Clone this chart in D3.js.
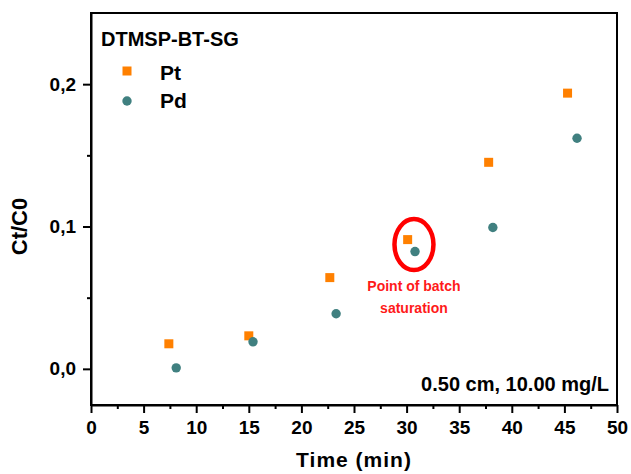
<!DOCTYPE html>
<html>
<head>
<meta charset="utf-8">
<script src="https://cdn.jsdelivr.net/npm/d3@7"></script>
<style>
  body { margin: 0; background: #fff; }
  text { font-family: "Liberation Sans", Arial, sans-serif; font-weight: bold; }
</style>
</head>
<body>
<script>
const ptTime = [7.4, 15.0, 22.7, 30.1, 37.8, 45.3];
const ptValue = [0.0176, 0.0232, 0.0641, 0.0908, 0.1451, 0.1937];
const pdTime = [8.1, 15.4, 23.3, 30.8, 38.2, 46.2];
const pdValue = [0.0007, 0.019, 0.0387, 0.0824, 0.0993, 0.162];
const xTicks = [0, 5, 10, 15, 20, 25, 30, 35, 40, 45, 50];
const yTicks = [0, 0.1, 0.2];

function main(){
    const canvasWidth = 631;
    const canvasHeight = 474;
    const margin = {top: 13, right: 14, bottom: 69, left: 91};
    const width = canvasWidth - margin.left - margin.right;
    const height = canvasHeight - margin.top - margin.bottom;

    const svg = d3.select("body").append("svg")
        .attr("width", canvasWidth)
        .attr("height", canvasHeight);

    const g = svg.append("g")
        .attr("transform", "translate(" + margin.left + "," + margin.top + ")");

    const xScale = d3.scaleLinear().domain([0, 50]).range([0, width]);
    const yScale = d3.scaleLinear().domain([-0.0254, 0.25]).range([height, 0]);

    // minor ticks
    g.append("g")
        .attr("transform", "translate(0," + height + ")")
        .call(d3.axisBottom(xScale).tickValues(d3.range(2.5, 50, 5)).tickSize(4).tickFormat(""))
        .call(a => a.select(".domain").remove());
    g.append("g")
        .call(d3.axisLeft(yScale).tickValues([0.05, 0.15]).tickSize(4).tickFormat(""))
        .call(a => a.select(".domain").remove());

    // major axes
    const xAxis = g.append("g")
        .attr("transform", "translate(0," + height + ")")
        .call(d3.axisBottom(xScale).tickValues(xTicks).tickSize(8).tickSizeOuter(0).tickPadding(8));
    xAxis.selectAll("text").attr("font-size", "19px").attr("fill", "#000");

    const yAxis = g.append("g")
        .call(d3.axisLeft(yScale).tickValues(yTicks).tickSize(8).tickSizeOuter(0).tickPadding(7)
            .tickFormat(d => d3.format(".1f")(d).replace(".", ",")));
    yAxis.selectAll("text").attr("font-size", "19px").attr("fill", "#000");

    g.selectAll(".tick line").attr("stroke", "#000").attr("stroke-width", 2);
    g.selectAll(".domain").attr("stroke", "#000").attr("stroke-width", 2);

    // frame
    g.append("rect")
        .attr("width", width).attr("height", height)
        .attr("fill", "none").attr("stroke", "#000").attr("stroke-width", 2);

    // axis titles
    svg.append("text")
        .attr("x", margin.left + width / 2)
        .attr("y", 467)
        .attr("text-anchor", "middle")
        .attr("font-size", "21px")
        .attr("letter-spacing", "1px")
        .text("Time (min)");
    svg.append("text")
        .attr("transform", "translate(27," + (margin.top + yScale(0.1)) + ") rotate(-90)")
        .attr("text-anchor", "middle")
        .attr("font-size", "22px")
        .text("Ct/C0");

    const orange = "#ff8000";
    const teal = "#408080";

    // Pt squares
    g.selectAll(".pt").data(ptTime).enter().append("rect")
        .attr("class", "pt")
        .attr("x", (d, i) => xScale(d) - 4.5)
        .attr("y", (d, i) => yScale(ptValue[i]) - 4.5)
        .attr("width", 9).attr("height", 9)
        .attr("fill", orange);

    // Pd circles
    g.selectAll(".pd").data(pdTime).enter().append("circle")
        .attr("class", "pd")
        .attr("cx", d => xScale(d))
        .attr("cy", (d, i) => yScale(pdValue[i]))
        .attr("r", 4.7)
        .attr("fill", teal);

    // annotation
    g.append("ellipse")
        .attr("cx", xScale(30.7)).attr("cy", yScale(0.0873))
        .attr("rx", 19.5).attr("ry", 25.5)
        .attr("fill", "none").attr("stroke", "#ff0000").attr("stroke-width", 4.5);
    g.append("text")
        .attr("x", xScale(30.7)).attr("y", yScale(0.0873) + 46)
        .attr("text-anchor", "middle").attr("font-size", "14px").attr("fill", "#ff1a1a")
        .text("Point of batch");
    g.append("text")
        .attr("x", xScale(30.7)).attr("y", yScale(0.0873) + 68)
        .attr("text-anchor", "middle").attr("font-size", "14px").attr("fill", "#ff1a1a")
        .text("saturation");

    // legend
    svg.append("text").attr("x", 101).attr("y", 46).attr("font-size", "20px").text("DTMSP-BT-SG");
    svg.append("rect").attr("x", 122.5).attr("y", 66.5).attr("width", 9).attr("height", 9).attr("fill", orange);
    svg.append("text").attr("x", 160).attr("y", 80).attr("font-size", "21px").text("Pt");
    svg.append("circle").attr("cx", 127).attr("cy", 101).attr("r", 4.7).attr("fill", teal);
    svg.append("text").attr("x", 160).attr("y", 108).attr("font-size", "21px").text("Pd");

    // condition label
    svg.append("text")
        .attr("x", 609).attr("y", 391)
        .attr("text-anchor", "end").attr("font-size", "20px")
        .text("0.50 cm, 10.00 mg/L");
}
main();
</script>
</body>
</html>
